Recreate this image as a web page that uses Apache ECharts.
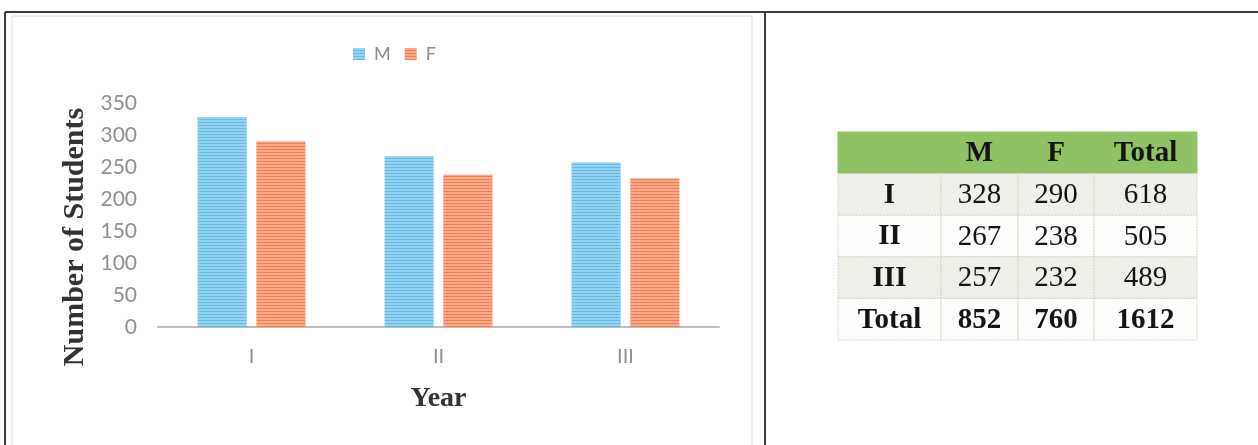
<!DOCTYPE html>
<html>
<head>
<meta charset="utf-8">
<script src="https://cdn.jsdelivr.net/npm/echarts@6/dist/echarts.min.js"></script>
<style>
html,body{margin:0;padding:0;background:#fff;}
#main{width:1258px;height:445px;}
</style>
</head>
<body>
<div id="main"></div>
<script>
// ---- data ----
const categories = ['I', 'II', 'III'];
const maleValues = [328, 267, 257];
const femaleValues = [290, 238, 232];
const rowTotals = [618, 505, 489];
const tableHeader = ['', 'M', 'F', 'Total'];
const totalRow = ['Total', 852, 760, 1612];
const seriesNames = ['M', 'F'];

// ---- table cells built from the data ----
const tableRows = [tableHeader];
categories.forEach((c, i) => tableRows.push([c, maleValues[i], femaleValues[i], rowTotals[i]]));
tableRows.push(totalRow);
const tableCells = [];
tableRows.forEach((row, r) => row.forEach((v, c) => tableCells.push([c, r, String(v)])));

// layout (style) only
const colWeights = [103, 77, 76, 103];
const rowFills = ['#8ec264', '#efeee8', '#fdfdfb', '#efeee8', '#fdfdfb'];

const chart = echarts.init(document.getElementById('main'));
const axisFont = 'Lato, "Open Sans", sans-serif';
const serif = '"Liberation Serif", "Times New Roman", serif';

const stripe = {
  symbol: 'rect', symbolSize: 1,
  dashArrayX: [1, 0], dashArrayY: [2, 1],
  color: 'rgba(255,255,255,0.35)'
};

chart.setOption({
  animation: false,
  legend: {
    data: seriesNames,
    left: 348, top: 40,
    itemWidth: 12, itemHeight: 12, itemGap: 14,
    icon: 'rect',
    textStyle: { fontFamily: axisFont, fontSize: 18, color: '#8a8a8a', padding: [0, 0, 0, 4] }
  },
  grid: [
    { left: 158, top: 103, width: 561, height: 224 },
    { left: 838, top: 132, width: 359, height: 208 }
  ],
  xAxis: [
    {
      gridIndex: 0, type: 'category', data: categories,
      axisLine: { lineStyle: { color: '#bdbdbd', width: 2 } },
      axisTick: { show: false },
      axisLabel: { fontFamily: axisFont, fontSize: 20, color: '#8f8f8f', margin: 20 },
      name: 'Year', nameLocation: 'middle', nameGap: 58,
      nameTextStyle: { fontFamily: serif, fontWeight: 'bold', fontSize: 28, color: '#333' }
    },
    {
      gridIndex: 1, type: 'category', data: tableHeader.map((h, i) => i), show: false
    }
  ],
  yAxis: [
    {
      gridIndex: 0, type: 'value', min: 0, max: 350, interval: 50,
      axisLine: { show: false }, axisTick: { show: false }, splitLine: { show: false },
      axisLabel: { fontFamily: axisFont, fontSize: 21, color: '#8f8f8f', margin: 21 },
      name: 'Number of Students', nameLocation: 'middle', nameGap: 68,
      nameTextStyle: { fontFamily: serif, fontWeight: 'bold', fontSize: 30, color: '#333', padding: [0, 44, 0, 0] }
    },
    {
      gridIndex: 1, type: 'category', data: tableRows.map((r, i) => i), inverse: true, show: false
    }
  ],
  series: [
    {
      name: seriesNames[0], type: 'bar', data: maleValues,
      xAxisIndex: 0, yAxisIndex: 0,
      barWidth: 49, barGap: '20%',
      itemStyle: { color: '#5fbbe8', decal: stripe }
    },
    {
      name: seriesNames[1], type: 'bar', data: femaleValues,
      xAxisIndex: 0, yAxisIndex: 0,
      barWidth: 49,
      itemStyle: { color: '#f47e4e', decal: stripe }
    },
    {
      type: 'custom', xAxisIndex: 1, yAxisIndex: 1,
      data: tableCells,
      renderItem: function (params, api) {
        const cs = params.coordSys;
        const c = api.value(0), r = api.value(1);
        const text = tableCells[params.dataIndex][2];
        const wsum = colWeights.reduce((a, b) => a + b, 0);
        let x0 = cs.x;
        for (let i = 0; i < c; i++) x0 += colWeights[i] / wsum * cs.width;
        const w = colWeights[c] / wsum * cs.width;
        const h = cs.height / tableRows.length;
        const y0 = cs.y + r * h;
        const bold = (r === 0 || c === 0 || r === tableRows.length - 1);
        return {
          type: 'group',
          children: [
            {
              type: 'rect',
              shape: { x: x0, y: y0, width: w, height: h },
              style: { fill: rowFills[r], stroke: r === 0 ? '#8ec264' : '#d6d6c4', lineWidth: 1, lineDash: r === 0 ? null : [2, 1] }
            },
            {
              type: 'text',
              style: {
                x: x0 + w / 2, y: y0 + h / 2 + 1,
                text: text, align: 'center', verticalAlign: 'middle',
                font: (bold ? 'bold ' : '') + '29px ' + serif,
                fill: '#141414'
              }
            }
          ]
        };
      }
    }
  ],
  graphic: [
    { type: 'rect', shape: { x: 12, y: 16, width: 740, height: 440 }, style: { fill: null, stroke: '#dcdcdc', lineWidth: 1 }, silent: true },
    { type: 'line', shape: { x1: 5, y1: 12, x2: 1258, y2: 12 }, style: { stroke: '#3a3a3a', lineWidth: 2 }, silent: true },
    { type: 'line', shape: { x1: 5, y1: 12, x2: 5, y2: 445 }, style: { stroke: '#3a3a3a', lineWidth: 2 }, silent: true },
    { type: 'line', shape: { x1: 765, y1: 12, x2: 765, y2: 445 }, style: { stroke: '#3a3a3a', lineWidth: 2 }, silent: true }
  ]
});
</script>
</body>
</html>
